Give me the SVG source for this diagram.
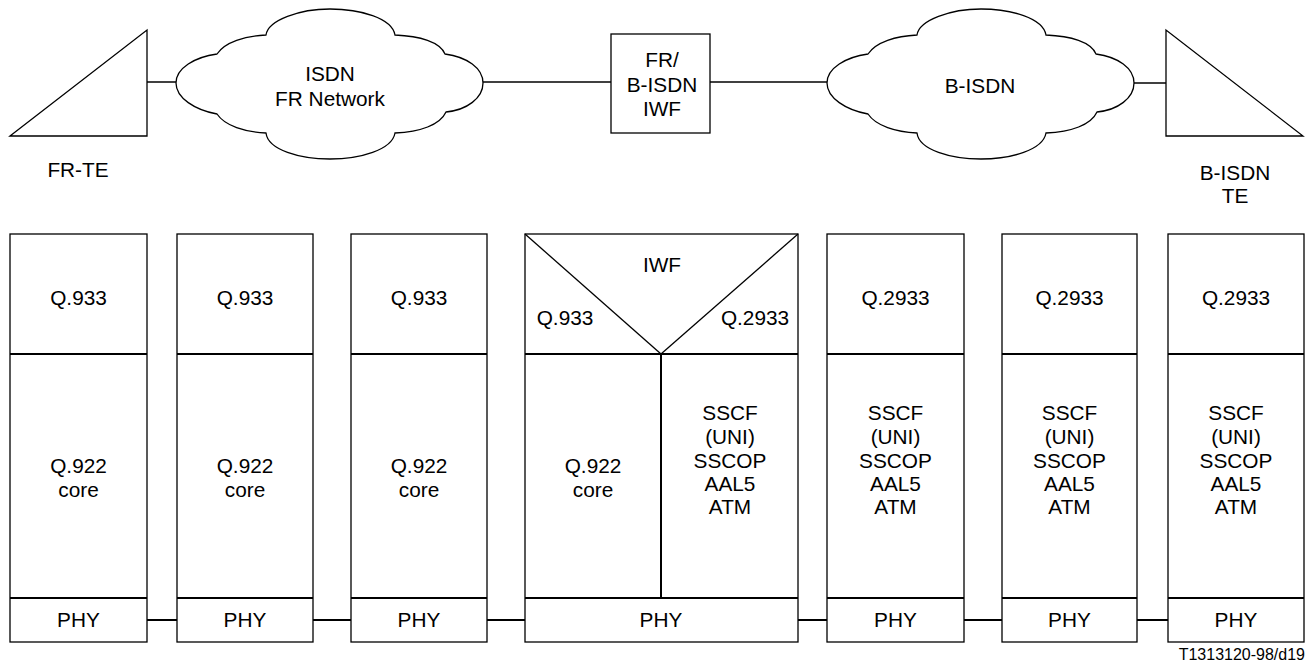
<svg xmlns="http://www.w3.org/2000/svg" width="1315" height="663" viewBox="0 0 1315 663">
<style>
  .t{font-family:"Liberation Sans",Arial,sans-serif;font-size:20.8px;fill:#000;text-anchor:middle}
  .s{font-family:"Liberation Sans",Arial,sans-serif;font-size:16px;fill:#000;text-anchor:end}
  .o{fill:#fff;stroke:#000;stroke-width:1.3}
  .d{stroke:#000;stroke-width:2;fill:none}
  .c{stroke:#000;stroke-width:1.5;fill:none}
  .th{stroke:#000;stroke-width:1.3;fill:none}
</style>
<defs>
  <path id="cloud" d="M -154,0 C -154,-15 -135,-26 -113,-29 C -105,-41 -85,-47 -64,-48 C -62,-63 -30,-74 0,-74 C 30,-74 62,-65 65,-48 C 90,-47 110,-41 115,-29 C 137,-26 153,-15 153,0 C 153,15 137,27 116,29 C 110,42 90,49 65,50 C 62,67 30,76 0,76 C -30,76 -62,67 -64,50 C -85,49 -105,43 -113,31 C -135,27 -154,15 -154,0 Z"/>
</defs>
<rect width="1315" height="663" fill="#fff"/>

<g id="connectors">
  <line class="c" x1="147" y1="82" x2="176" y2="82"/>
  <line class="c" x1="483" y1="82" x2="611" y2="82"/>
  <line class="c" x1="710" y1="82" x2="827" y2="82"/>
  <line class="c" x1="1134" y1="83" x2="1166" y2="83"/>
  <line class="d" x1="147" y1="620" x2="177" y2="620"/>
  <line class="d" x1="313" y1="620" x2="351" y2="620"/>
  <line class="d" x1="487" y1="620" x2="525" y2="620"/>
  <line class="d" x1="798" y1="620" x2="827" y2="620"/>
  <line class="d" x1="964" y1="620" x2="1002" y2="620"/>
  <line class="d" x1="1137" y1="620" x2="1168" y2="620"/>
</g>

<g id="fr-te">
  <polygon class="o" points="10,136 147,30 147,136"/>
  <text class="t" x="78" y="177">FR-TE</text>
</g>

<g id="cloud-isdn">
  <use href="#cloud" class="o" transform="translate(330,83)"/>
  <text class="t" x="330" y="81">ISDN</text>
  <text class="t" x="330" y="106">FR Network</text>
</g>

<g id="iwf-box">
  <rect class="o" x="611" y="34" width="99" height="99"/>
  <text class="t" x="662" y="67">FR/</text>
  <text class="t" x="662" y="92">B-ISDN</text>
  <text class="t" x="662" y="116">IWF</text>
</g>

<g id="cloud-bisdn">
  <use href="#cloud" class="o" transform="translate(981,83)"/>
  <text class="t" x="980" y="93">B-ISDN</text>
</g>

<g id="bisdn-te">
  <polygon class="o" points="1166,30 1166,136 1303,136"/>
  <text class="t" x="1235" y="180">B-ISDN</text>
  <text class="t" x="1235" y="203">TE</text>
</g>

<g id="stack1">
  <rect class="o" x="10" y="234" width="137" height="408"/>
  <line class="d" x1="10" y1="354" x2="147" y2="354"/>
  <line class="d" x1="10" y1="598" x2="147" y2="598"/>
  <text class="t" x="78.5" y="305">Q.933</text>
  <text class="t" x="78.5" y="473">Q.922</text>
  <text class="t" x="78.5" y="497">core</text>
  <text class="t" x="78.5" y="627">PHY</text>
</g>

<g id="stack2">
  <rect class="o" x="177" y="234" width="136" height="408"/>
  <line class="d" x1="177" y1="354" x2="313" y2="354"/>
  <line class="d" x1="177" y1="598" x2="313" y2="598"/>
  <text class="t" x="245" y="305">Q.933</text>
  <text class="t" x="245" y="473">Q.922</text>
  <text class="t" x="245" y="497">core</text>
  <text class="t" x="245" y="627">PHY</text>
</g>

<g id="stack3">
  <rect class="o" x="351" y="234" width="136" height="408"/>
  <line class="d" x1="351" y1="354" x2="487" y2="354"/>
  <line class="d" x1="351" y1="598" x2="487" y2="598"/>
  <text class="t" x="419" y="305">Q.933</text>
  <text class="t" x="419" y="473">Q.922</text>
  <text class="t" x="419" y="497">core</text>
  <text class="t" x="419" y="627">PHY</text>
</g>

<g id="stack-iwf">
  <rect class="o" x="525" y="234" width="273" height="408"/>
  <line class="th" x1="525" y1="234" x2="661" y2="354"/>
  <line class="th" x1="798" y1="234" x2="661" y2="354"/>
  <line class="d" x1="525" y1="354" x2="798" y2="354"/>
  <line class="d" x1="661" y1="354" x2="661" y2="598"/>
  <line class="d" x1="525" y1="598" x2="798" y2="598"/>
  <text class="t" x="662" y="272">IWF</text>
  <text class="t" x="565" y="325">Q.933</text>
  <text class="t" x="755" y="325">Q.2933</text>
  <text class="t" x="593" y="473">Q.922</text>
  <text class="t" x="593" y="497">core</text>
  <text class="t" x="730" y="420">SSCF</text>
  <text class="t" x="730" y="444">(UNI)</text>
  <text class="t" x="730" y="468">SSCOP</text>
  <text class="t" x="730" y="491">AAL5</text>
  <text class="t" x="730" y="514">ATM</text>
  <text class="t" x="661" y="627">PHY</text>
</g>

<g id="stack5">
  <rect class="o" x="827" y="234" width="137" height="408"/>
  <line class="d" x1="827" y1="354" x2="964" y2="354"/>
  <line class="d" x1="827" y1="598" x2="964" y2="598"/>
  <text class="t" x="895.5" y="305">Q.2933</text>
  <text class="t" x="895.5" y="420">SSCF</text>
  <text class="t" x="895.5" y="444">(UNI)</text>
  <text class="t" x="895.5" y="468">SSCOP</text>
  <text class="t" x="895.5" y="491">AAL5</text>
  <text class="t" x="895.5" y="514">ATM</text>
  <text class="t" x="895.5" y="627">PHY</text>
</g>

<g id="stack6">
  <rect class="o" x="1002" y="234" width="135" height="408"/>
  <line class="d" x1="1002" y1="354" x2="1137" y2="354"/>
  <line class="d" x1="1002" y1="598" x2="1137" y2="598"/>
  <text class="t" x="1069.5" y="305">Q.2933</text>
  <text class="t" x="1069.5" y="420">SSCF</text>
  <text class="t" x="1069.5" y="444">(UNI)</text>
  <text class="t" x="1069.5" y="468">SSCOP</text>
  <text class="t" x="1069.5" y="491">AAL5</text>
  <text class="t" x="1069.5" y="514">ATM</text>
  <text class="t" x="1069.5" y="627">PHY</text>
</g>

<g id="stack7">
  <rect class="o" x="1168" y="234" width="136" height="408"/>
  <line class="d" x1="1168" y1="354" x2="1304" y2="354"/>
  <line class="d" x1="1168" y1="598" x2="1304" y2="598"/>
  <text class="t" x="1236" y="305">Q.2933</text>
  <text class="t" x="1236" y="420">SSCF</text>
  <text class="t" x="1236" y="444">(UNI)</text>
  <text class="t" x="1236" y="468">SSCOP</text>
  <text class="t" x="1236" y="491">AAL5</text>
  <text class="t" x="1236" y="514">ATM</text>
  <text class="t" x="1236" y="627">PHY</text>
</g>

<text class="s" x="1305" y="660">T1313120-98/d19</text>
</svg>
